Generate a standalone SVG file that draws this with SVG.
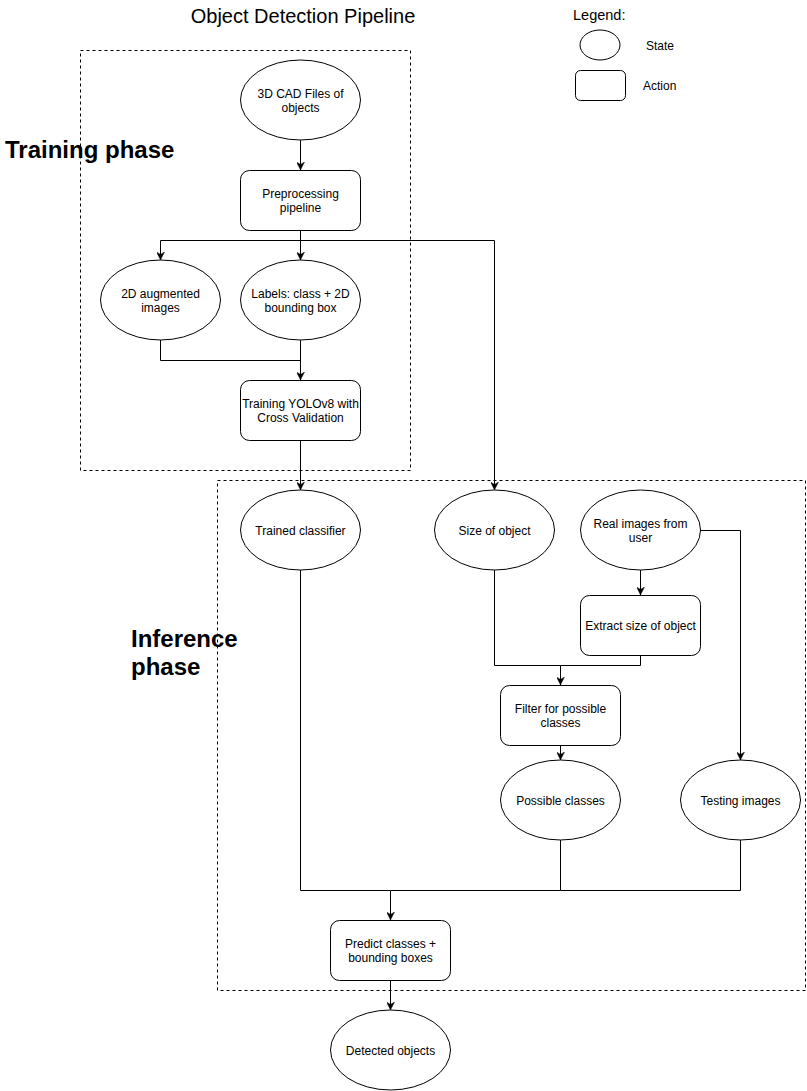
<svg xmlns="http://www.w3.org/2000/svg" width="807" height="1091" viewBox="0 0 807 1091">
<style>
.t{font-family:"Liberation Sans",Arial,Helvetica,sans-serif;font-size:12px;fill:#000;text-anchor:middle}
.n{fill:#fff;stroke:#000;stroke-width:1}
.c{fill:none;stroke:#000;stroke-width:1}
.arr{fill:none;stroke:#000;stroke-width:1;marker-end:url(#ah)}
.grp{fill:none;stroke:#000;stroke-width:1;stroke-dasharray:3 3}
.h{font-family:"Liberation Sans",Arial,Helvetica,sans-serif;font-size:24px;font-weight:bold;fill:#000}
</style>
<defs>
<marker id="ah" viewBox="0 0 10 10" refX="10" refY="5" markerWidth="8" markerHeight="8" markerUnits="userSpaceOnUse" orient="auto">
<path d="M0,0 L10,5 L0,10 L3,5 z" fill="#000" stroke="#000" stroke-width="0.5"/>
</marker>
</defs>
<rect width="807" height="1091" fill="#fff"/>
<text x="303" y="23" font-family="'Liberation Sans',Arial,sans-serif" font-size="20" text-anchor="middle">Object Detection Pipeline</text>
<g id="legend">
<text x="573" y="20" font-family="'Liberation Sans',Arial,sans-serif" font-size="14.5">Legend:</text>
<ellipse class="n" cx="600" cy="45" rx="20" ry="15"/>
<text x="646" y="50" font-family="'Liberation Sans',Arial,sans-serif" font-size="12">State</text>
<rect class="n" x="575.5" y="70.5" width="50" height="30" rx="5"/>
<text x="643" y="90" font-family="'Liberation Sans',Arial,sans-serif" font-size="12">Action</text>
</g>
<g id="training-phase">
<rect class="grp" x="80.5" y="50.5" width="330" height="420"/>
<text class="h" x="5" y="158">Training phase</text>
</g>
<g id="inference-phase">
<rect class="grp" x="217.5" y="480.5" width="588" height="510"/>
<text class="h" x="131" y="647">Inference</text>
<text class="h" x="131" y="675">phase</text>
</g>
<g id="connectors">
<path class="arr" d="M300.5,140 V170"/>
<path class="arr" d="M300.5,230 V240.5 H160.5 V260"/>
<path class="arr" d="M300.5,240.5 V260"/>
<path class="arr" d="M300.5,240.5 H494.5 V490"/>
<path class="c" d="M160.5,340 V360.5 H300.5"/>
<path class="arr" d="M300.5,340 V380"/>
<path class="arr" d="M300.5,440 V490"/>
<path class="arr" d="M640.5,570 V595"/>
<path class="arr" d="M700,530.5 H740.5 V760"/>
<path class="arr" d="M494.5,570 V665.5 H560.5 V685"/>
<path class="c" d="M640.5,655 V665.5 H560.5"/>
<path class="arr" d="M560.5,745 V760"/>
<path class="arr" d="M300.5,570 V890.5 H390.5 V920"/>
<path class="c" d="M560.5,840 V890.5 H390.5"/>
<path class="c" d="M740.5,840 V890.5 H560.5"/>
<path class="arr" d="M390.5,980 V1010"/>
</g>
<g id="cad-files">
<ellipse class="n" cx="300.5" cy="100" rx="60" ry="40"/>
<text class="t" x="300.5" y="98">3D CAD Files of</text>
<text class="t" x="300.5" y="112">objects</text>
</g>
<g id="preprocessing">
<rect class="n" x="240.5" y="170.5" width="120" height="60" rx="9"/>
<text class="t" x="300.5" y="198">Preprocessing</text>
<text class="t" x="300.5" y="212">pipeline</text>
</g>
<g id="augmented-images">
<ellipse class="n" cx="160.5" cy="300" rx="60" ry="40"/>
<text class="t" x="160.5" y="298">2D augmented</text>
<text class="t" x="160.5" y="312">images</text>
</g>
<g id="labels">
<ellipse class="n" cx="300.5" cy="300" rx="60" ry="40"/>
<text class="t" x="300.5" y="298">Labels: class + 2D</text>
<text class="t" x="300.5" y="312">bounding box</text>
</g>
<g id="training-yolo">
<rect class="n" x="240.5" y="380.5" width="120" height="60" rx="9"/>
<text class="t" x="300.5" y="408">Training YOLOv8 with</text>
<text class="t" x="300.5" y="422">Cross Validation</text>
</g>
<g id="trained-classifier">
<ellipse class="n" cx="300.5" cy="530" rx="60" ry="40"/>
<text class="t" x="300.5" y="535">Trained classifier</text>
</g>
<g id="size-of-object">
<ellipse class="n" cx="494.5" cy="530" rx="60" ry="40"/>
<text class="t" x="494.5" y="535">Size of object</text>
</g>
<g id="real-images">
<ellipse class="n" cx="640.5" cy="530" rx="60" ry="40"/>
<text class="t" x="640.5" y="528">Real images from</text>
<text class="t" x="640.5" y="542">user</text>
</g>
<g id="extract-size">
<rect class="n" x="580.5" y="595.5" width="120" height="60" rx="9"/>
<text class="t" x="640.5" y="630">Extract size of object</text>
</g>
<g id="filter-classes">
<rect class="n" x="500.5" y="685.5" width="120" height="60" rx="9"/>
<text class="t" x="560.5" y="713">Filter for possible</text>
<text class="t" x="560.5" y="727">classes</text>
</g>
<g id="possible-classes">
<ellipse class="n" cx="560.5" cy="800" rx="60" ry="40"/>
<text class="t" x="560.5" y="805">Possible classes</text>
</g>
<g id="testing-images">
<ellipse class="n" cx="740.5" cy="800" rx="60" ry="40"/>
<text class="t" x="740.5" y="805">Testing images</text>
</g>
<g id="predict">
<rect class="n" x="330.5" y="920.5" width="120" height="60" rx="9"/>
<text class="t" x="390.5" y="948">Predict classes +</text>
<text class="t" x="390.5" y="962">bounding boxes</text>
</g>
<g id="detected-objects">
<ellipse class="n" cx="390.5" cy="1050" rx="60" ry="40"/>
<text class="t" x="390.5" y="1055">Detected objects</text>
</g>
</svg>
